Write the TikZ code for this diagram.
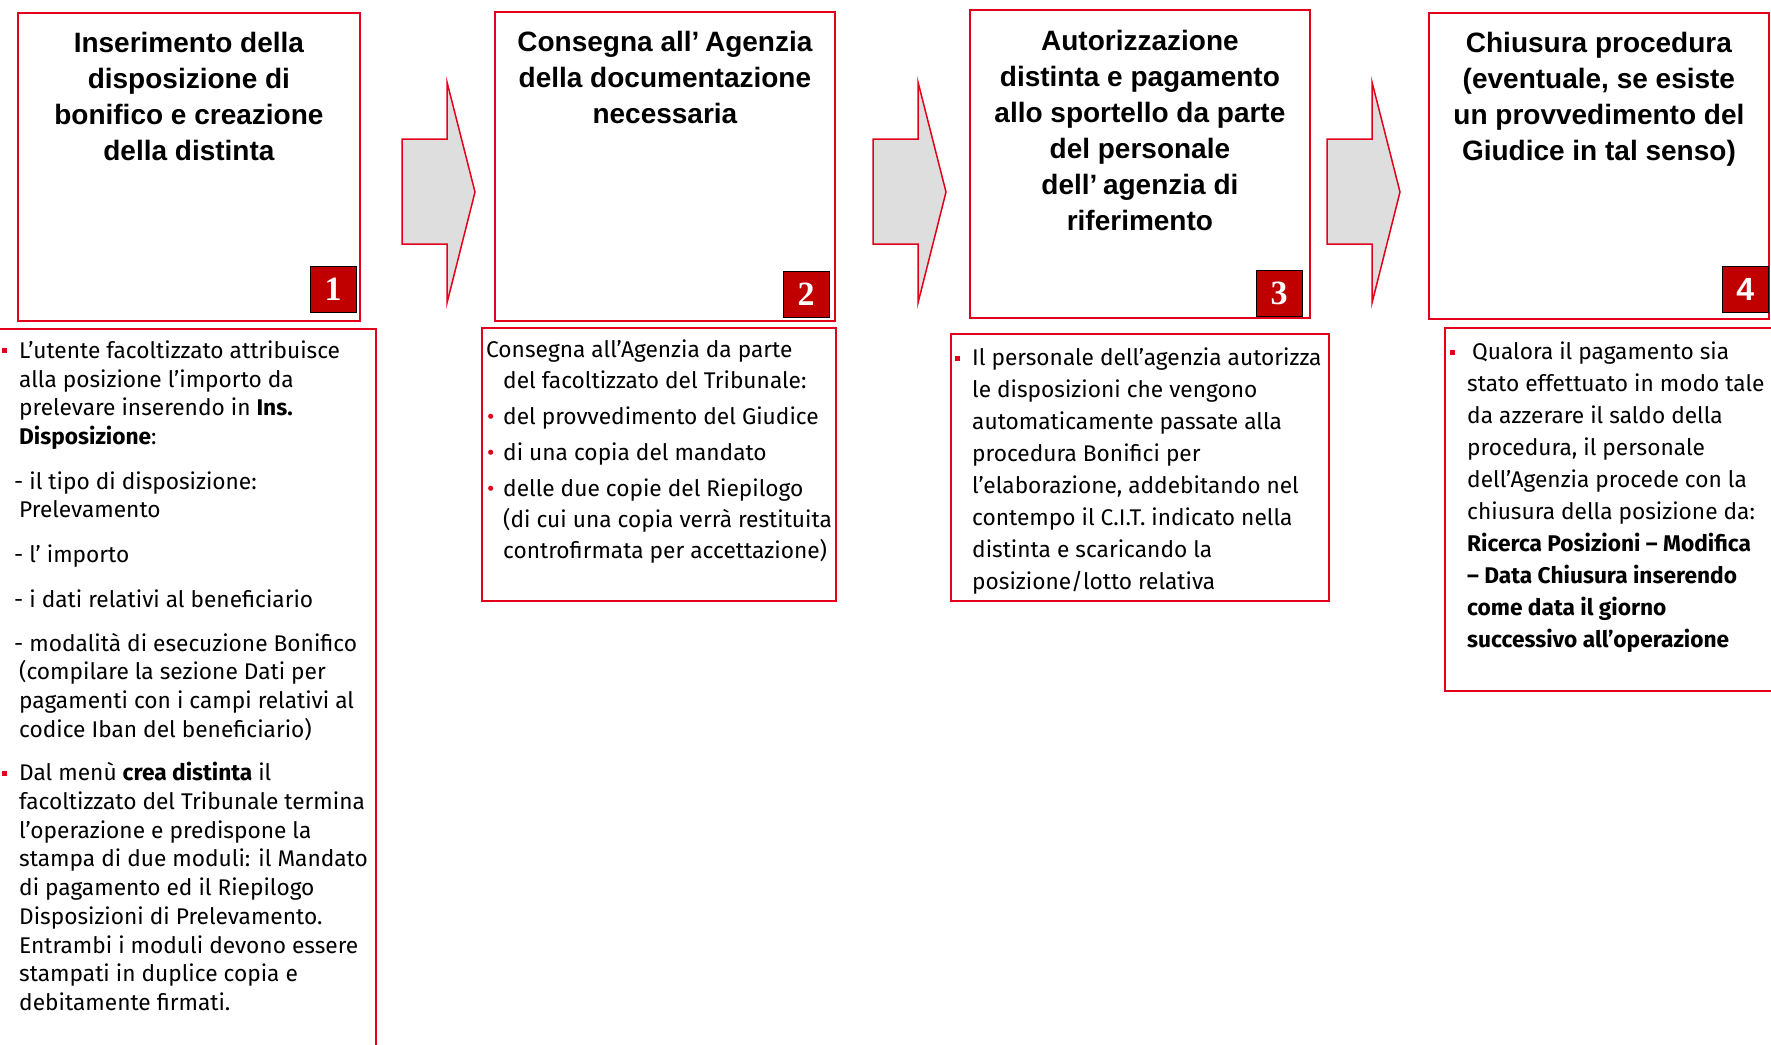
\documentclass[tikz,border=0pt]{standalone}
\usepackage{fontspec}
\setmainfont{Liberation Sans}
\newfontfamily\bodyfont{Fira Sans}
\newfontfamily\numfont{Liberation Serif}
\usetikzlibrary{positioning}
\definecolor{ured}{HTML}{E2001A}
\definecolor{numred}{HTML}{C00000}
\definecolor{arrgray}{HTML}{DEDEDE}
\newcommand{\sqb}{\makebox[17pt][l]{\textcolor{ured}{\rule[5pt]{5pt}{5pt}}}}
\newcommand{\dotb}{\makebox[17pt][l]{\hspace{1pt}\textcolor{ured}{\textbullet}}}
\newcommand{\ind}[1]{\hspace*{#1pt}}

\begin{document}
\begin{tikzpicture}[x=1pt,y=-1pt]
\tikzstyle{stepbox} = [draw=ured,line width=1.8pt,inner sep=0pt,anchor=north west]
\tikzstyle{numbox} = [draw=black,line width=1.2pt,fill=numred,text=white,minimum size=46pt,inner sep=0pt]
\tikzstyle{title} = [align=center,inner sep=0pt,font=\bfseries\fontsize{28}{36}\selectfont]
\tikzstyle{body} = [align=left,inner sep=0pt,anchor=north west,font=\bodyfont\fontsize{22.7}{32}\selectfont]
\tikzstyle{arrowbox} = [draw=ured,line width=1.5pt,fill=arrgray,line join=miter]
\useasboundingbox (0,0) rectangle (1771,1044);
\clip (0,0) rectangle (1771,1044);
% top boxes
\node[stepbox,minimum width=342pt,minimum height=308pt] (b1) at (17,12) {};
\node[stepbox,minimum width=340pt,minimum height=309pt] (b2) at (494,11) {};
\node[stepbox,minimum width=340pt,minimum height=308pt] (b3) at (969,9) {};
\node[stepbox,minimum width=340pt,minimum height=306pt] (b4) at (1428,12) {};
\node[title,below=20pt of b1.north] (h1) {Inserimento della\\disposizione di\\bonifico e creazione\\della distinta};
\node[title,below=20pt of b2.north] (h2) {Consegna all’\hspace{0.2em}Agenzia\\della documentazione\\necessaria};
\node[title,below=21pt of b3.north] (h3) {Autorizzazione\\distinta e pagamento\\allo sportello da parte\\del personale\\dell’\hspace{0.2em}agenzia di\\riferimento};
\node[title,below=20pt of b4.north] (h4) {Chiusura procedura\\(eventuale, se esiste\\un provvedimento del\\Giudice in tal senso)};
\node[numbox,above left=9pt and 4pt of b1.south east,font=\numfont\bfseries\fontsize{34}{34}\selectfont] (n1) {1};
\node[numbox,above left=4pt and 6pt of b2.south east,font=\numfont\bfseries\fontsize{34}{34}\selectfont] (n2) {2};
\node[numbox,above left=2pt and 8pt of b3.south east,font=\numfont\bfseries\fontsize{34}{34}\selectfont] (n3) {3};
\node[numbox,above left=7pt and 1pt of b4.south east,font=\bfseries\fontsize{32}{32}\selectfont] (n4) {4};
% arrows
\foreach \ax in {402,873,1327}
  \draw[arrowbox] (\ax,139) -- (\ax+45,139) -- (\ax+45,82) -- (\ax+73,192)
    -- (\ax+45,303) -- (\ax+45,244) -- (\ax,244) -- cycle;
% detail boxes
\node[stepbox,minimum width=380pt,minimum height=730pt] (d1) at (-5,328) {};
\node[stepbox,minimum width=354pt,minimum height=273pt] (d2) at (481,327) {};
\node[stepbox,minimum width=378pt,minimum height=267pt] (d3) at (950,333) {};
\node[stepbox,minimum width=340pt,minimum height=363pt] (d4) at (1444,327) {};
\node[body,font=\bodyfont\fontsize{22.7}{28.7}\selectfont] (t1) at (2,340.5) {%
\sqb L’utente facoltizzato attribuisce\\
\ind{17}alla posizione l’importo da\\
\ind{17}prelevare inserendo in \textbf{Ins.}\\
\ind{17}\textbf{Disposizione}:\\[16pt]
\ind{12}- il tipo di disposizione:\\
\ind{17}Prelevamento\\[16pt]
\ind{12}- l’ importo\\[16pt]
\ind{12}- i dati relativi al beneficiario\\[15pt]
\ind{12}- modalità di esecuzione Bonifico\\
\ind{17}(compilare la sezione Dati per\\
\ind{17}pagamenti con i campi relativi al\\
\ind{17}codice Iban del beneficiario)\\[15pt]
\sqb Dal menù \textbf{crea distinta} il\\
\ind{17}facoltizzato del Tribunale termina\\
\ind{17}l’operazione e predispone la\\
\ind{17}stampa di due moduli: il Mandato\\
\ind{17}di pagamento ed il Riepilogo\\
\ind{17}Disposizioni di Prelevamento.\\
\ind{17}Entrambi i moduli devono essere\\
\ind{17}stampati in duplice copia e\\
\ind{17}debitamente firmati.};
\node[body,font=\bodyfont\fontsize{22.7}{31}\selectfont] (t2) at (486,340) {%
Consegna all’Agenzia da parte\\
\ind{17}del facoltizzato del Tribunale:\\[5pt]
\dotb del provvedimento del Giudice\\[5pt]
\dotb di una copia del mandato\\[5pt]
\dotb delle due copie del Riepilogo\\
\ind{17}(di cui una copia verrà restituita\\
\ind{17}controfirmata per accettazione)};
\node[body] (t3) at (955,348) {%
\sqb Il personale dell’agenzia autorizza\\
\ind{17}le disposizioni che vengono\\
\ind{17}automaticamente passate alla\\
\ind{17}procedura Bonifici per\\
\ind{17}l’elaborazione, addebitando nel\\
\ind{17}contempo il C.I.T. indicato nella\\
\ind{17}distinta e scaricando la\\
\ind{17}posizione/lotto relativa};
\node[body] (t4) at (1450,342) {%
\sqb\hspace{5pt}Qualora il pagamento sia\\
\ind{17}stato effettuato in modo tale\\
\ind{17}da azzerare il saldo della\\
\ind{17}procedura, il personale\\
\ind{17}dell’Agenzia procede con la\\
\ind{17}chiusura della posizione da:\\
\ind{17}\textbf{Ricerca Posizioni – Modifica}\\
\ind{17}\textbf{– Data Chiusura inserendo}\\
\ind{17}\textbf{come data il giorno}\\
\ind{17}\textbf{successivo all’operazione}};
\end{tikzpicture}
\end{document}
